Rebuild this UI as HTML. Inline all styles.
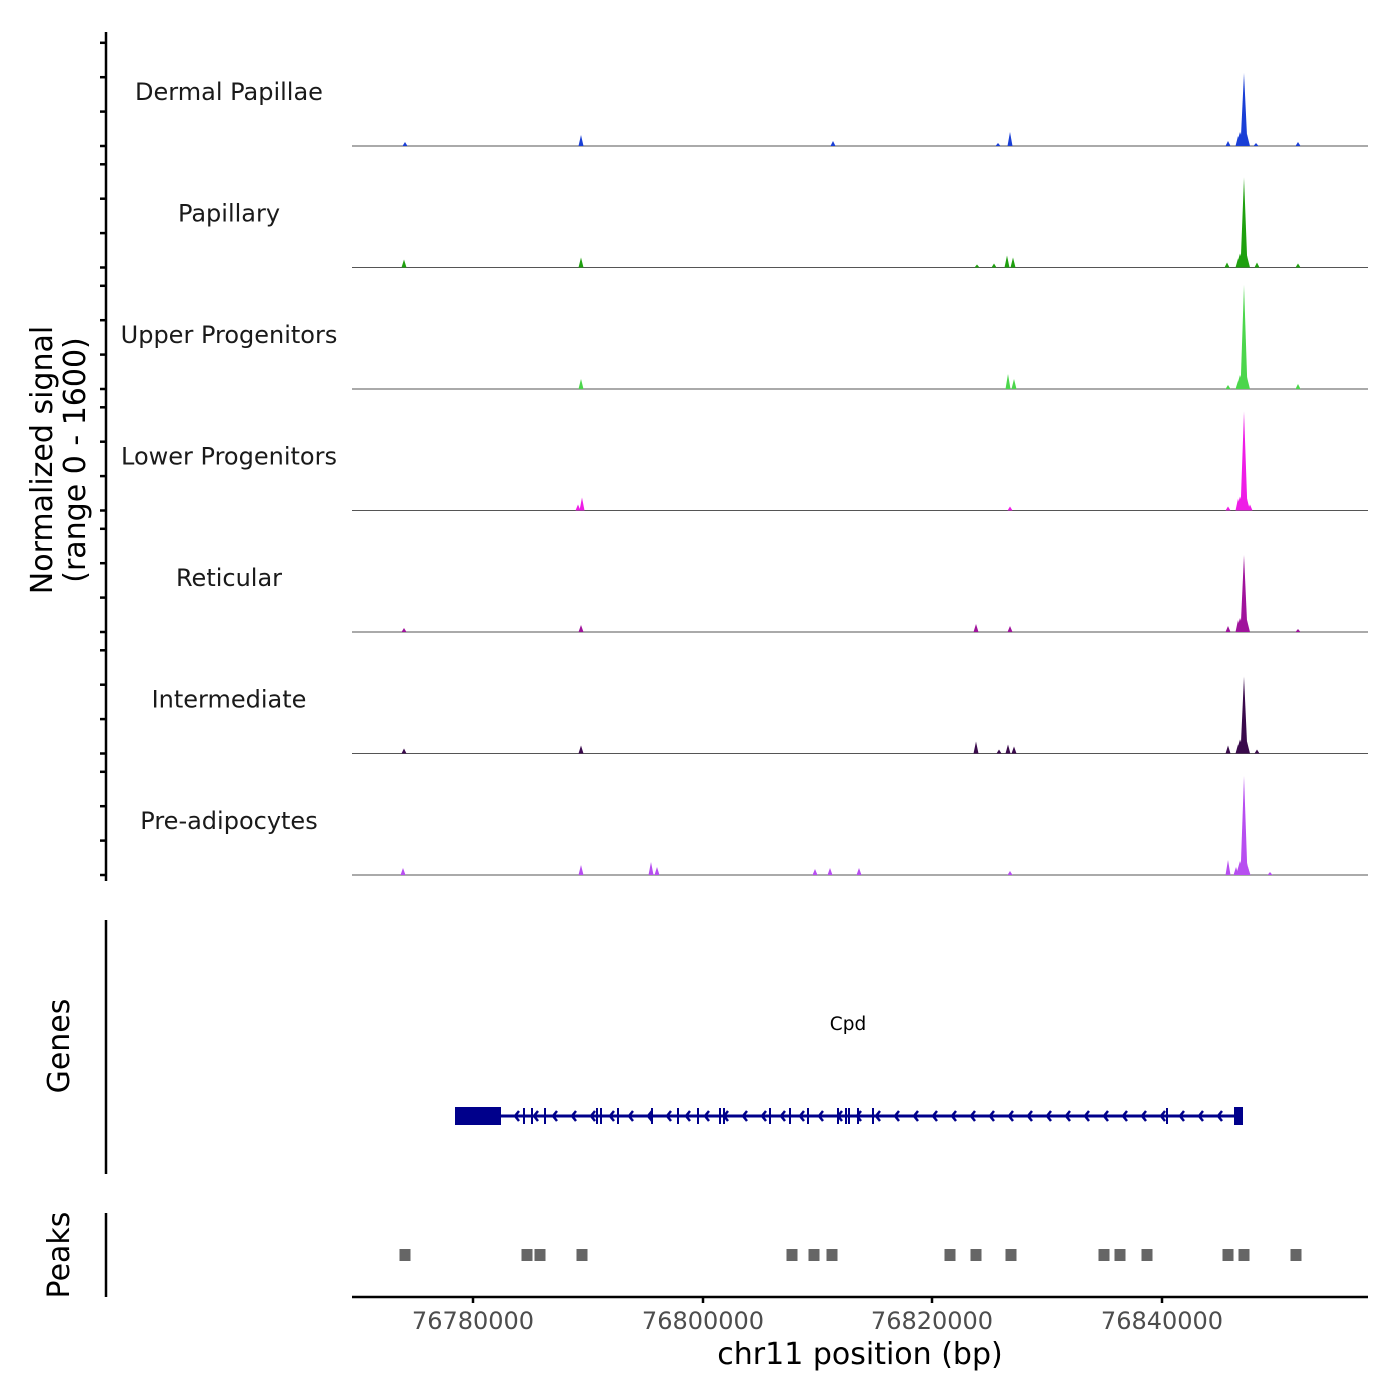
<!DOCTYPE html>
<html><head><meta charset="utf-8"><style>body{margin:0;background:#fff}svg{display:block}</style></head>
<body>
<svg id="s" width="1400" height="1400" xmlns="http://www.w3.org/2000/svg" font-family="DejaVu Sans, Liberation Sans, sans-serif">
<rect width="1400" height="1400" fill="#fff"/>
<g id="g"></g>
<text x="52" y="460" font-size="30" text-anchor="middle" transform="rotate(-90 52 460)">Normalized signal</text>
<text x="85" y="460" font-size="30" text-anchor="middle" transform="rotate(-90 85 460)">(range 0 - 1600)</text>
<text x="69" y="1046" font-size="30" text-anchor="middle" transform="rotate(-90 69 1046)">Genes</text>
<text x="69" y="1255" font-size="30" text-anchor="middle" transform="rotate(-90 69 1255)">Peaks</text>
<line x1="106" y1="32" x2="106" y2="881" stroke="#000" stroke-width="2.5"/>
<line x1="106" y1="920" x2="106" y2="1174" stroke="#000" stroke-width="2.5"/>
<line x1="106" y1="1213" x2="106" y2="1297" stroke="#000" stroke-width="2.5"/>
<line x1="352" y1="1297" x2="1368" y2="1297" stroke="#000" stroke-width="2.5"/>
<g stroke="#000" stroke-width="2.5"><line x1="473" y1="1297" x2="473" y2="1303"/><line x1="703" y1="1297" x2="703" y2="1303"/><line x1="932" y1="1297" x2="932" y2="1303"/><line x1="1162" y1="1297" x2="1162" y2="1303"/></g>
<g font-size="24" fill="#4d4d4d" text-anchor="middle"><text x="473" y="1329">76780000</text><text x="703" y="1329">76800000</text><text x="932" y="1329">76820000</text><text x="1162" y="1329">76840000</text></g>
<text x="860" y="1364" font-size="30" text-anchor="middle">chr11 position (bp)</text>
<text x="848" y="1030" font-size="18.5" text-anchor="middle">Cpd</text>
</svg>
<script>
const g=document.getElementById('g');let h='';
const names=['Dermal Papillae','Papillary','Upper Progenitors','Lower Progenitors','Reticular','Intermediate','Pre-adipocytes'];
const cols=['#1a3fd6','#1fa00f','#4cd64c','#ee1de6','#a0139c','#3a0a4c','#b74ef0'];
const main=[73,90,104,99,77,77,99];
const small=[
[[405,4],[581,11],[833,5],[1010,14],[998,3],[1228,5],[1238,10],[1256,3],[1298,4]],
[[404,8],[581,10],[1007,12],[1013,10],[994,4],[977,3],[1227,5],[1238,9],[1257,5],[1298,4]],
[[581,10],[1008,15],[1014,10],[1228,4],[1238,8],[1298,5]],
[[578,6],[582,13],[1010,4],[1228,4],[1238,12],[1250,6]],
[[404,4],[581,7],[976,8],[1010,6],[1228,6],[1238,12],[1298,3]],
[[404,5],[581,8],[976,12],[999,4],[1008,9],[1014,7],[1228,8],[1238,9],[1257,4]],
[[403,7],[581,10],[651,13],[657,8],[815,6],[830,7],[859,7],[1010,4],[1228,15],[1236,8],[1240,12],[1248,8],[1270,3]]];
for(let i=0;i<7;i++){const b=146+i*121.5;const c=cols[i];
 h+=`<text x="229" y="${b-46}" font-size="24" fill="#1a1a1a" text-anchor="middle">${names[i]}</text>`;
 for(const d of [0,34.4,68.8,103.2])h+=`<line x1="100" y1="${b-d}" x2="106" y2="${b-d}" stroke="#000" stroke-width="2.5"/>`;
 h+=`<line x1="352" y1="${b}" x2="1368" y2="${b}" stroke="#555" stroke-width="1"/>`;
 let pk=small[i].concat([[1244,main[i]]]);
 for(const [x,hh] of pk){const w=hh>50?3.5:2.5;h+=`<polygon points="${x-w},${b} ${x},${b-hh} ${x+w},${b}" fill="${c}"/>`;}
 h+=`<polygon points="1236,${b} 1240,${b-14} 1243,${b-6} 1247,${b-12} 1250,${b}" fill="${c}"/>`;
}
h+=`<line x1="455" y1="1116" x2="1243" y2="1116" stroke="#00008b" stroke-width="3"/>`;
h+=`<rect x="455" y="1107" width="46" height="18" fill="#00008b"/><rect x="1234" y="1107" width="9" height="18" fill="#00008b"/>`;
for(let x=515;x<1230;x+=19){h+=`<polyline points="${x+4},${1111} ${x},1116 ${x+4},1121" fill="none" stroke="#00008b" stroke-width="2.5"/>`;}
for(const x of [524,532,545,597,601,618,652,678,698,720,724,770,790,808,838,846,849,858,873,1167])h+=`<line x1="${x}" y1="1108" x2="${x}" y2="1124" stroke="#00008b" stroke-width="2"/>`;
for(const x of [405,527,540,582,792,814,832,950,976,1011,1104,1120,1147,1228,1244,1296])h+=`<rect x="${x-5.5}" y="1249" width="11" height="12" fill="#666"/>`;
g.innerHTML=h;
</script>
</body></html>
